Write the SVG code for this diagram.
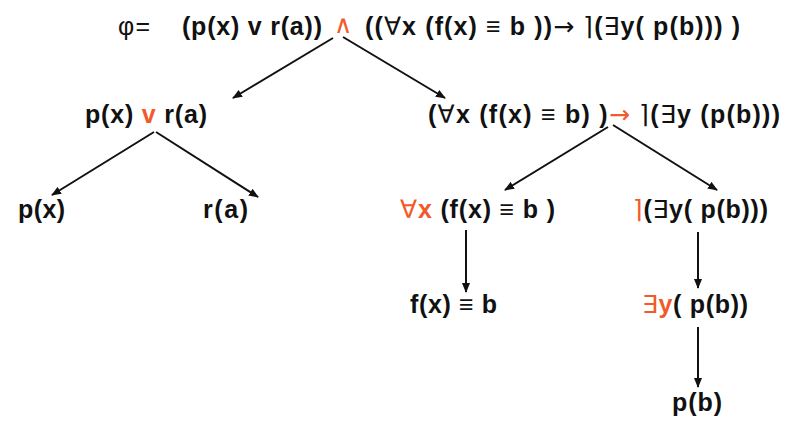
<svg xmlns="http://www.w3.org/2000/svg" width="793" height="421" viewBox="0 0 793 421">
<defs>
<marker id="ah" markerWidth="10" markerHeight="8" refX="9" refY="4" orient="auto" markerUnits="userSpaceOnUse">
<path d="M0,0 L10,4 L0,8 Z" fill="#111"/>
</marker>
<style>
text{font-family:"Liberation Sans",Arial,"DejaVu Sans",sans-serif;font-size:25px;font-weight:bold;fill:#111}
.o{fill:#f25a2a}
.n{font-weight:normal}
.d{font-family:"DejaVu Sans",sans-serif;font-weight:normal}
.c line{stroke:#111;stroke-width:2;marker-end:url(#ah)}
</style>
</defs>
<rect width="793" height="421" fill="#fff"/>
<g id="root">
<text x="118" y="35" class="n" textLength="32" lengthAdjust="spacing">φ=</text>
<text x="182" y="35" textLength="140" lengthAdjust="spacing">(p(x) v r(a))</text>
<text x="334" y="33" class="o d" font-size="15">∧</text>
<text x="365" y="35" textLength="375" lengthAdjust="spacing">((<tspan class="n">∀</tspan>x (f(x) <tspan class="n">≡</tspan> b ))<tspan class="d">→</tspan> <tspan class="d">⌉</tspan>(<tspan class="n">∃</tspan>y( p(b))) )</text>
</g>
<g id="n_or">
<text x="85" y="123" textLength="122" lengthAdjust="spacing">p(x) <tspan class="o">v</tspan> r(a)</text>
</g>
<g id="n_imp">
<text x="428" y="123" textLength="352" lengthAdjust="spacing">(<tspan class="n">∀</tspan>x (f(x) <tspan class="n">≡</tspan> b) )<tspan class="o d">→</tspan> <tspan class="d">⌉</tspan>(<tspan class="n">∃</tspan>y (p(b)))</text>
</g>
<g id="n_px"><text x="18" y="218" textLength="47" lengthAdjust="spacing">p(x)</text></g>
<g id="n_ra"><text x="203" y="218" textLength="45" lengthAdjust="spacing">r(a)</text></g>
<g id="n_all"><text x="400" y="218" textLength="155" lengthAdjust="spacing"><tspan class="o n">∀</tspan><tspan class="o">x</tspan> (f(x) <tspan class="n">≡</tspan> b )</text></g>
<g id="n_not"><text x="633" y="218" textLength="135" lengthAdjust="spacing"><tspan class="o d">⌉</tspan>(<tspan class="n">∃</tspan>y( p(b)))</text></g>
<g id="n_eq"><text x="410" y="313" textLength="87" lengthAdjust="spacing">f(x) <tspan class="n">≡</tspan> b</text></g>
<g id="n_ex"><text x="642" y="313" textLength="106" lengthAdjust="spacing"><tspan class="o n">∃</tspan><tspan class="o">y</tspan>( p(b))</text></g>
<g id="n_pb"><text x="672" y="411" textLength="50" lengthAdjust="spacing">p(b)</text></g>
<g id="connectors" class="c">
<line x1="333" y1="38" x2="233" y2="98"/>
<line x1="343" y1="37" x2="445" y2="98"/>
<line x1="154" y1="132" x2="52" y2="195"/>
<line x1="156" y1="132" x2="258" y2="197"/>
<line x1="608" y1="127" x2="505" y2="190"/>
<line x1="613" y1="125" x2="717" y2="190"/>
<line x1="466" y1="230" x2="466" y2="292"/>
<line x1="698" y1="232" x2="698" y2="288"/>
<line x1="698" y1="327" x2="698" y2="387"/>
</g>
</svg>
